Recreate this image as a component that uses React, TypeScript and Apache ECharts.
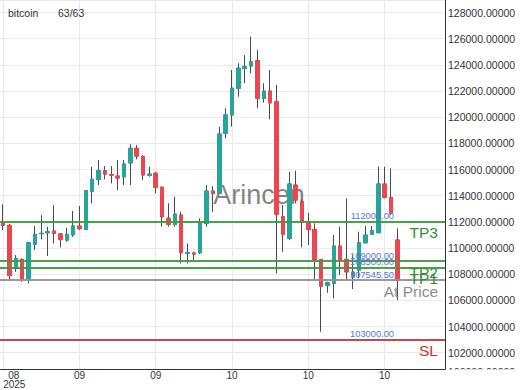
import { useEffect, useRef } from "react";
import * as echarts from "echarts";

const titleText = "bitcoin";
const counterText = "63/63";
const watermarkText = "Arincen";
const clippedTickText = "100000.00000";

const opens = [
  111930, 111730, 108440, 109130, 107680, 110280, 111100, 111170, 111290, 111070,
  110610, 111010, 111680, 111420, 114340, 115250, 115910, 115600, 115500, 115450,
  116510, 117620, 116980, 115550, 115710, 114640, 112270, 111810, 112520, 109600,
  109620, 109640, 111880, 114350, 114180, 118770, 120170, 122210, 123740, 123910,
  124310, 121440, 121990, 121180, 112390, 110740, 114810, 113540, 112010, 111420,
  109130, 107145, 107300, 110150, 109130, 107850, 108310, 110400, 111060, 111170,
  114890, 113870, 110610,
];
const closes = [
  111730, 107900, 109210, 107680, 110400, 111040, 111120, 111250, 111120, 110660,
  111040, 111680, 111480, 114380, 115250, 115910, 115650, 115580, 115350, 116420,
  117620, 117030, 115580, 115650, 114640, 112390, 111810, 112590, 109640, 109660,
  109540, 111880, 114350, 114180, 118710, 120170, 122210, 123740, 123880, 124240,
  121440, 121990, 121100, 112590, 111060, 114890, 113670, 112080, 111420, 109130,
  107090, 107343, 110150, 109130, 108180, 108160, 110400, 110990, 111320, 114890,
  113870, 112650, 107522.35938,
];
const lows = [
  111370, 107470, 108180, 107420, 107300, 109840, 110660, 109380, 110350, 110050,
  110480, 110860, 111370, 111370, 113410, 114810, 115250, 114940, 114430, 114810,
  114810, 116780, 115190, 115450, 114180, 111630, 111630, 111630, 108830, 108830,
  109080, 109540, 111630, 112770, 114180, 118380, 119270, 121560, 122600, 123350,
  120680, 121110, 119840, 108060, 109710, 110610, 113410, 110050, 110230, 107600,
  103600, 106580, 106150, 107930, 107550, 106860, 107680, 110350, 110990, 111170,
  113790, 112520, 106020,
];
const highs = [
  113340, 111850, 109460, 109210, 110480, 111680, 112520, 111620, 113280, 111120,
  111550, 112830, 113210, 114430, 116210, 116720, 116260, 116260, 116720, 116720,
  117930, 117870, 117100, 116210, 115830, 114700, 113410, 113920, 112770, 110350,
  109710, 112270, 114810, 114730, 119270, 120680, 123600, 124120, 124750, 126150,
  125130, 122590, 123600, 122460, 113280, 115830, 115910, 113720, 112690, 111880,
  109130, 107420, 111000, 111630, 113790, 109460, 111250, 111680, 111680, 116210,
  116210, 116090, 111500,
];

const slotCount = 70;
const tickEvery = 12;
const tickLabels = ["08\n2025", "09", "09", "10", "10", "10"];

const yMin = 100754;
const yMax = 128956;

const levelValues = [112000, 109000, 108500, 107545.5, 103000];
const levelPrices = ["112000.00", "109000.00", "108500.00", "107545.50", "103000.00"];
const levelNames = ["TP3", "TP2", "TP1", "At Price", "SL"];
const levelKinds = ["tp", "tp", "tp", "entry", "sl"];

const lastPrice = 107522.35938;

const FONT = "'Liberation Sans', Arial, sans-serif";
const UP = "#26a69a";
const DOWN = "#ef4550";
const WICK = "#4a4a4a";
const KIND_LINE: Record<string, string> = { tp: "#3d9c3d", entry: "#939393", sl: "#c43c3c" };
const KIND_TEXT: Record<string, string> = { tp: "#2f8f2f", entry: "#8c8c8c", sl: "#d32f2f" };

export default function App() {
  const ref = useRef<HTMLDivElement>(null);

  useEffect(() => {
    if (!ref.current) return;
    const chart = echarts.init(ref.current, null, { renderer: "svg" });

    const categories = Array.from({ length: slotCount }, (_, i) => String(i));
    const wickData = opens.map((o, i) => [o, closes[i], lows[i], highs[i]]);
    const bodyData = opens.map((o, i) => [
      o,
      closes[i],
      Math.min(o, closes[i]),
      Math.max(o, closes[i]),
    ]);

    const markData: any[] = [];
    levelValues.forEach((v, i) => {
      const kind = levelKinds[i];
      markData.push({
        yAxis: v,
        lineStyle: { color: KIND_LINE[kind], width: 1.5, type: "solid" },
        label: {
          show: true,
          position: "insideEndTop",
          distance: [51, 1],
          formatter: levelPrices[i],
          color: "#5a78d0",
          fontSize: 9.3,
          fontFamily: FONT,
        },
      });
      markData.push({
        yAxis: v,
        lineStyle: { color: KIND_LINE[kind], width: 1.5, type: "solid" },
        label: {
          show: true,
          position: "insideEndBottom",
          distance: [7, 3],
          formatter: levelNames[i],
          color: KIND_TEXT[kind],
          fontSize: 15.5,
          fontFamily: FONT,
        },
      });
    });
    markData.push({
      yAxis: lastPrice,
      lineStyle: { opacity: 0 },
      label: {
        show: true,
        position: "end",
        distance: [1, 0],
        formatter: lastPrice.toFixed(5),
        color: "#ffffff",
        backgroundColor: "#e8434f",
        padding: [2, 1, 1, 1],
        fontSize: 10.5,
        fontFamily: FONT,
      },
    });

    const option: any = {
      animation: false,
      textStyle: { fontFamily: FONT },
      title: [
        {
          text: titleText,
          left: 8,
          top: 7,
          padding: 0,
          textStyle: { fontSize: 10.5, fontWeight: "normal", color: "#333", fontFamily: FONT },
        },
        {
          text: counterText,
          left: 58,
          top: 7,
          padding: 0,
          textStyle: { fontSize: 10.5, fontWeight: "normal", color: "#333", fontFamily: FONT },
        },
      ],
      grid: { left: 0, right: 75, top: 0, bottom: 21, containLabel: false, outerBoundsMode: "none" },
      xAxis: {
        type: "category",
        data: categories,
        boundaryGap: true,
        axisLine: { show: true, lineStyle: { color: "#333", width: 1 } },
        axisTick: { show: false, interval: tickEvery - 1, alignWithLabel: true },
        axisLabel: {
          interval: tickEvery - 1,
          color: "#333",
          fontSize: 10,
          lineHeight: 9,
          margin: 2,
          fontFamily: FONT,
          alignMinLabel: "left",
          formatter: (_v: string, idx: number) => {
            if (idx % tickEvery !== 0) return "";
            const t = tickLabels[idx / tickEvery];
            if (t === undefined) return "";
            if (idx === 0) {
              const parts = t.split("\n");
              return `{a|${parts[0]}}\n{b|${parts[1]}}`;
            }
            return t;
          },
          rich: {
            a: { fontSize: 10, lineHeight: 9, color: "#333", padding: [0, 0, 0, 5], fontFamily: FONT },
            b: { fontSize: 10, lineHeight: 9, color: "#333", fontFamily: FONT },
          },
        },
        splitLine: {
          show: true,
          interval: tickEvery - 1,
          alignWithLabel: true,
          lineStyle: { color: "#ebebeb", width: 1 },
        },
      },
      yAxis: {
        type: "value",
        position: "right",
        min: yMin,
        max: yMax,
        splitNumber: 14,
        scale: true,
        axisLine: { show: true, lineStyle: { color: "#333", width: 1 } },
        axisTick: { show: false },
        axisLabel: {
          color: "#333",
          fontSize: 10.5,
          margin: 3,
          fontFamily: FONT,
          showMinLabel: false,
          showMaxLabel: false,
          formatter: (v: number) => v.toFixed(5),
        },
        splitLine: { show: true, lineStyle: { color: "#ebebeb", width: 1 } },
      },
      graphic: [
        {
          type: "text",
          x: 259,
          y: 195,
          z: 1,
          silent: true,
          style: {
            text: watermarkText,
            fontSize: 27,
            fontFamily: FONT,
            fill: "rgba(90,90,90,0.75)",
            textAlign: "center",
            textVerticalAlign: "middle",
          },
        },
        {
          type: "text",
          x: 448,
          y: 372,
          z: 1,
          silent: true,
          style: {
            text: clippedTickText,
            fontSize: 10.5,
            fontFamily: FONT,
            fill: "#333",
            textAlign: "left",
            textVerticalAlign: "middle",
          },
        },
        {
          type: "rect",
          z: 2,
          silent: true,
          shape: { x: 446, y: 369.5, width: 74, height: 21 },
          style: { fill: "#ffffff" },
        },
      ],
      series: [
        {
          type: "candlestick",
          name: "wick",
          data: wickData,
          barWidth: 4,
          z: 2,
          itemStyle: {
            color: "rgba(0,0,0,0)",
            color0: "rgba(0,0,0,0)",
            borderColor: WICK,
            borderColor0: WICK,
            borderWidth: 1,
          },
        },
        {
          type: "candlestick",
          name: "bitcoin",
          data: bodyData,
          barWidth: 4,
          z: 3,
          itemStyle: {
            color: UP,
            color0: DOWN,
            borderColor: UP,
            borderColor0: DOWN,
            borderWidth: 1,
          },
          markLine: {
            silent: true,
            symbol: ["none", "none"],
            animation: false,
            data: markData,
          },
        },
      ],
    };

    chart.setOption(option);
    return () => chart.dispose();
  }, []);

  return (
    <div
      ref={ref}
      style={{ position: "fixed", left: 0, top: 0, width: 520, height: 390, background: "#fff" }}
    />
  );
}
